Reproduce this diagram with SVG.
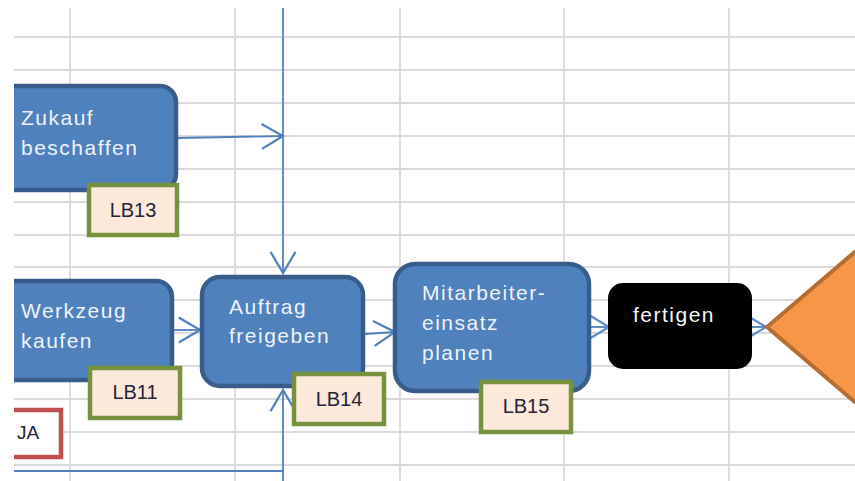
<svg xmlns="http://www.w3.org/2000/svg" width="855" height="481" viewBox="0 0 855 481">
  <defs>
    <style>
      .grid line { stroke: #dadada; stroke-width: 1.8; }
      .step rect { fill: #4f81bd; stroke: #385d8a; stroke-width: 4.5; }
      .step text { font-family: "Liberation Sans", Arial, sans-serif; font-size: 21px; letter-spacing: 1.5px; fill: #eef3fb; }
      .tag rect { fill: #fde9d9; stroke: #76923c; stroke-width: 4.5; }
      .tag text { font-family: "Liberation Sans", Arial, sans-serif; font-size: 20px; fill: #22223a; text-anchor: middle; }
      .conn { fill: none; stroke: #4f81bd; stroke-width: 1.8; }
    </style>
    <marker id="arrow" markerUnits="userSpaceOnUse" markerWidth="30" markerHeight="30" viewBox="-20 -12 24 24" refX="0" refY="0" orient="auto">
      <path d="M-17,-10 L0,0 L-17,10" fill="none" stroke="#4f81bd" stroke-width="1.8"/>
    </marker>
    <marker id="arrowSmall" markerUnits="userSpaceOnUse" markerWidth="30" markerHeight="30" viewBox="-20 -12 24 24" refX="0" refY="0" orient="auto">
      <path d="M-15,-9 L0,0 L-15,9" fill="none" stroke="#5b8cc8" stroke-width="1.8"/>
    </marker>
    <clipPath id="sheet">
      <rect x="14" y="8" width="841" height="473"/>
    </clipPath>
  </defs>

  <rect width="855" height="481" fill="#ffffff"/>

  <g clip-path="url(#sheet)">
    <!-- worksheet cell grid -->
    <g class="grid">
      <line x1="70" y1="0" x2="70" y2="481"/>
      <line x1="235" y1="0" x2="235" y2="481"/>
      <line x1="400" y1="0" x2="400" y2="481"/>
      <line x1="564" y1="0" x2="564" y2="481"/>
      <line x1="729" y1="0" x2="729" y2="481"/>
      <line x1="0" y1="37" x2="855" y2="37"/>
      <line x1="0" y1="70" x2="855" y2="70"/>
      <line x1="0" y1="103" x2="855" y2="103"/>
      <line x1="0" y1="136" x2="855" y2="136"/>
      <line x1="0" y1="169" x2="855" y2="169"/>
      <line x1="0" y1="202" x2="855" y2="202"/>
      <line x1="0" y1="235" x2="855" y2="235"/>
      <line x1="0" y1="267" x2="855" y2="267"/>
      <line x1="0" y1="300" x2="855" y2="300"/>
      <line x1="0" y1="333" x2="855" y2="333"/>
      <line x1="0" y1="366" x2="855" y2="366"/>
      <line x1="0" y1="399" x2="855" y2="399"/>
      <line x1="0" y1="432" x2="855" y2="432"/>
      <line x1="0" y1="465" x2="855" y2="465"/>
    </g>

    <!-- connectors -->
    <g id="connectors">
      <path class="conn" d="M178,138 L283,136" marker-end="url(#arrow)"/>
      <path class="conn" d="M283,0 L283,273" marker-end="url(#arrow)"/>
      <path class="conn" d="M0,471 L283,471" stroke="#6f97cc" stroke-width="3"/>
      <path class="conn" d="M283,481 L283,390" marker-end="url(#arrow)"/>
      <path class="conn" d="M174,330 L200,330" marker-end="url(#arrow)"/>
      <path class="conn" d="M365,334 L395,332" marker-end="url(#arrow)"/>
      <path class="conn" d="M591,327 L609,327" marker-end="url(#arrowSmall)"/>
      <path class="conn" d="M752,327 L766,327" marker-end="url(#arrowSmall)"/>
    </g>

    <!-- decision -->
    <g id="decision">
      <polygon points="767,327 960,162 1153,327 960,492" fill="#f79646" stroke="#b66d2f" stroke-width="4"/>
    </g>

    <g id="zukauf" class="step">
      <rect x="-20" y="86" width="196" height="104" rx="16"/>
      <text x="21" y="125">Zukauf</text>
      <text x="21" y="155">beschaffen</text>
    </g>
    <g id="lb13" class="tag">
      <rect x="89" y="185" width="88" height="50"/>
      <text x="133" y="217">LB13</text>
    </g>

    <g id="werkzeug" class="step">
      <rect x="-20" y="281" width="192" height="99" rx="16"/>
      <text x="21" y="318">Werkzeug</text>
      <text x="21" y="348">kaufen</text>
    </g>
    <g id="lb11" class="tag">
      <rect x="90" y="368" width="90" height="50"/>
      <text x="135" y="399">LB11</text>
    </g>

    <g id="ja">
      <rect x="-20" y="410" width="81" height="47" fill="#ffffff" stroke="#c0504d" stroke-width="4.5"/>
      <text x="17" y="439" font-family="Liberation Sans, Arial, sans-serif" font-size="19" fill="#22223a">JA</text>
    </g>

    <g id="auftrag" class="step">
      <rect x="202" y="277" width="161" height="109" rx="18"/>
      <text x="229" y="314">Auftrag</text>
      <text x="229" y="343">freigeben</text>
    </g>
    <g id="lb14" class="tag">
      <rect x="294" y="374" width="90" height="50"/>
      <text x="339" y="406">LB14</text>
    </g>

    <g id="mitarbeiter" class="step">
      <rect x="395" y="264" width="194" height="127" rx="20"/>
      <text x="422" y="300">Mitarbeiter-</text>
      <text x="422" y="330">einsatz</text>
      <text x="422" y="360">planen</text>
    </g>
    <g id="lb15" class="tag">
      <rect x="481" y="382" width="90" height="50"/>
      <text x="526" y="413">LB15</text>
    </g>

    <g id="fertigen">
      <rect x="608" y="283" width="144" height="86" rx="15" fill="#000000"/>
      <text x="633" y="322" font-family="Liberation Sans, Arial, sans-serif" font-size="21" letter-spacing="1.5" fill="#f4f6fa">fertigen</text>
    </g>
  </g>
</svg>
